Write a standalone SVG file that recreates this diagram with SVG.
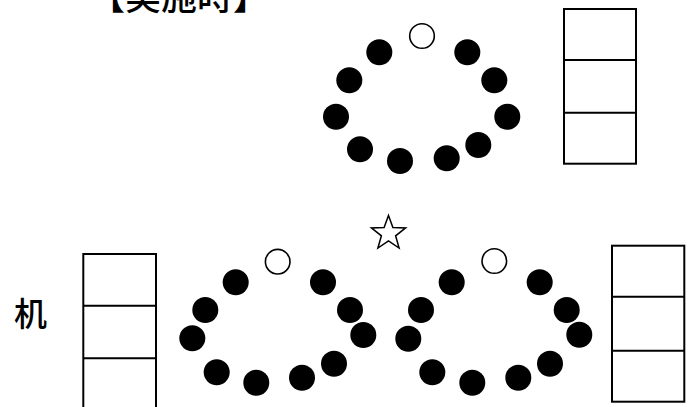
<svg xmlns="http://www.w3.org/2000/svg" width="696" height="407" viewBox="0 0 696 407">
<style>
.dot{fill:#000}
.seat{fill:#fff;stroke:#000;stroke-width:1.6}
.box{fill:#fff;stroke:#000;stroke-width:2}
.div{stroke:#000;stroke-width:2}
.t{font-family:"Noto Sans CJK JP","Noto Sans CJK SC",sans-serif;fill:#000}
</style>
<rect width="696" height="407" fill="#fff"/>
<g id="title"><text class="t" x="89" y="10" font-size="36" font-weight="500">【実施時】</text></g>
<g id="label-desk"><text class="t" x="14" y="326" font-size="33" font-weight="500">机</text></g>
<g id="star"><polygon points="388.5,215.5 392.9,227.4 405.6,227.9 395.6,235.8 399.1,248.1 388.5,241 377.9,248.1 381.4,235.8 371.4,227.9 384.1,227.4" fill="#fff" stroke="#000" stroke-width="1.5" stroke-linejoin="miter"/></g>
<g id="cluster-top">
<circle class="seat" cx="422" cy="36" r="12.3"/>
<circle class="dot" cx="379.3" cy="52.3" r="13"/>
<circle class="dot" cx="467.3" cy="52.3" r="13"/>
<circle class="dot" cx="349.3" cy="80.3" r="13"/>
<circle class="dot" cx="494.3" cy="80.3" r="13"/>
<circle class="dot" cx="336" cy="116.7" r="13"/>
<circle class="dot" cx="507.3" cy="116.7" r="13"/>
<circle class="dot" cx="360" cy="149.3" r="13"/>
<circle class="dot" cx="400" cy="161" r="13"/>
<circle class="dot" cx="446.7" cy="158.3" r="13"/>
<circle class="dot" cx="478.3" cy="145" r="13"/>
</g>
<g id="cluster-left">
<circle class="seat" cx="277.7" cy="261.7" r="12.3"/>
<circle class="dot" cx="235.7" cy="282.3" r="13"/>
<circle class="dot" cx="323" cy="282.3" r="13"/>
<circle class="dot" cx="205.3" cy="310" r="13"/>
<circle class="dot" cx="350" cy="310" r="13"/>
<circle class="dot" cx="192.3" cy="338.3" r="13"/>
<circle class="dot" cx="363.3" cy="335" r="13"/>
<circle class="dot" cx="216.7" cy="372.3" r="13"/>
<circle class="dot" cx="256.3" cy="382.7" r="13"/>
<circle class="dot" cx="302" cy="377.7" r="13"/>
<circle class="dot" cx="334" cy="363.7" r="13"/>
</g>
<g id="cluster-right">
<circle class="seat" cx="494.3" cy="261" r="12.3"/>
<circle class="dot" cx="451.7" cy="282.3" r="13"/>
<circle class="dot" cx="539.7" cy="282.3" r="13"/>
<circle class="dot" cx="421" cy="310" r="13"/>
<circle class="dot" cx="566.7" cy="310" r="13"/>
<circle class="dot" cx="408.3" cy="338.7" r="13"/>
<circle class="dot" cx="579.3" cy="334.7" r="13"/>
<circle class="dot" cx="432.3" cy="372.3" r="13"/>
<circle class="dot" cx="472.3" cy="382.7" r="13"/>
<circle class="dot" cx="518.3" cy="377.7" r="13"/>
<circle class="dot" cx="550" cy="363.7" r="13"/>
</g>
<g id="box-top-right">
<rect class="box" x="564" y="9" width="72" height="154.7"/>
<line class="div" x1="564" y1="60" x2="636" y2="60"/>
<line class="div" x1="564" y1="112.7" x2="636" y2="112.7"/>
</g>
<g id="box-bottom-left">
<rect class="box" x="83.3" y="254" width="72.7" height="160"/>
<line class="div" x1="83.3" y1="305.7" x2="156" y2="305.7"/>
<line class="div" x1="83.3" y1="358.3" x2="156" y2="358.3"/>
</g>
<g id="box-bottom-right">
<rect class="box" x="612" y="245.7" width="72.3" height="156"/>
<line class="div" x1="612" y1="296.7" x2="684.3" y2="296.7"/>
<line class="div" x1="612" y1="350.7" x2="684.3" y2="350.7"/>
</g>
<g id="connectors"></g>
</svg>
